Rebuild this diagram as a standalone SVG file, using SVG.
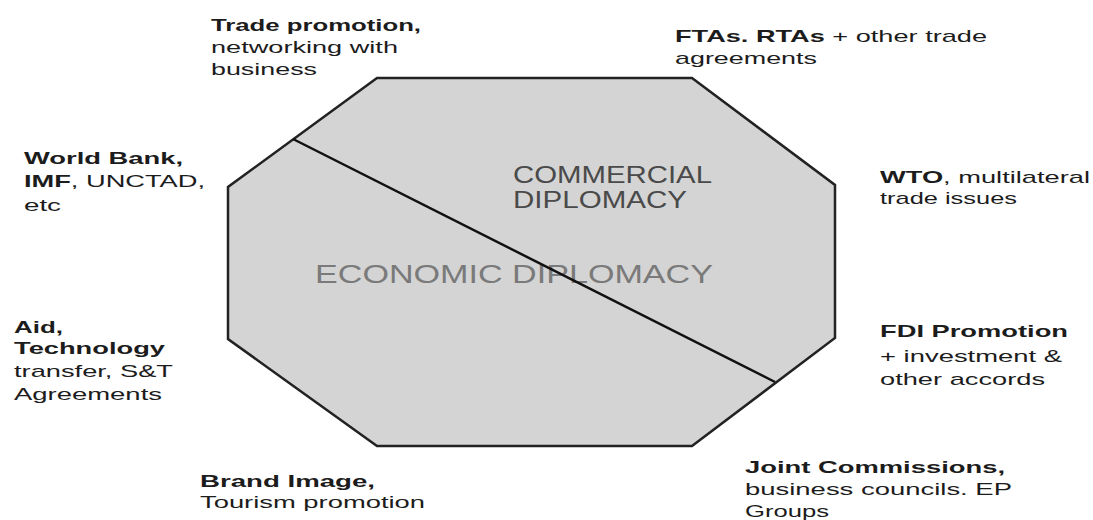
<svg xmlns="http://www.w3.org/2000/svg" width="1093" height="520" viewBox="0 0 1093 520">
<style>
.lbl{font-family:"Liberation Sans",Arial,sans-serif;font-size:17px;fill:#1c1c1c}
.b{font-weight:bold}
.big{font-family:"Liberation Sans",Arial,sans-serif;font-size:25px}
.big2{font-family:"Liberation Sans",Arial,sans-serif;font-size:23px}
.oct{fill:#d4d4d4;stroke:#222;stroke-width:2.5;stroke-linejoin:miter}
.div{stroke:#111;stroke-width:2.5;fill:none}
</style>
<rect width="1093" height="520" fill="#fff"/>
<g id="octagon">
<polygon class="oct" points="377,78 692,78 835,185 835,338 692,446 377,446 228,339 228,187"/>
<text class="big2" x="513" y="183" fill="#4a4a4a" textLength="199" lengthAdjust="spacingAndGlyphs">COMMERCIAL</text>
<text class="big2" x="513" y="208" fill="#4a4a4a" textLength="174" lengthAdjust="spacingAndGlyphs">DIPLOMACY</text>
<text class="big" x="315" y="283" fill="#7a7a7a" textLength="398" lengthAdjust="spacingAndGlyphs">ECONOMIC DIPLOMACY</text>
</g>
<g id="connectors">
<line class="div" x1="293" y1="139" x2="775" y2="382"/>
</g>
<g id="trade-promotion">
<text class="lbl b" x="211" y="31" textLength="210" lengthAdjust="spacingAndGlyphs">Trade promotion,</text>
<text class="lbl" x="211" y="53" textLength="187" lengthAdjust="spacingAndGlyphs">networking with</text>
<text class="lbl" x="211" y="75" textLength="106" lengthAdjust="spacingAndGlyphs">business</text>
</g>
<g id="world-bank">
<text class="lbl b" x="24" y="164" textLength="159" lengthAdjust="spacingAndGlyphs">World Bank,</text>
<text class="lbl" x="24" y="187" textLength="181" lengthAdjust="spacingAndGlyphs"><tspan class="b">IMF</tspan>, UNCTAD,</text>
<text class="lbl" x="24" y="211" textLength="37" lengthAdjust="spacingAndGlyphs">etc</text>
</g>
<g id="aid">
<text class="lbl b" x="14" y="333" textLength="49" lengthAdjust="spacingAndGlyphs">Aid,</text>
<text class="lbl b" x="14" y="354" textLength="151" lengthAdjust="spacingAndGlyphs">Technology</text>
<text class="lbl" x="14" y="377" textLength="159" lengthAdjust="spacingAndGlyphs">transfer, S&amp;T</text>
<text class="lbl" x="14" y="400" textLength="148" lengthAdjust="spacingAndGlyphs">Agreements</text>
</g>
<g id="ftas">
<text class="lbl" x="675" y="42" textLength="312" lengthAdjust="spacingAndGlyphs"><tspan class="b">FTAs. RTAs</tspan> + other trade</text>
<text class="lbl" x="675" y="64" textLength="142" lengthAdjust="spacingAndGlyphs">agreements</text>
</g>
<g id="wto">
<text class="lbl" x="880" y="183" textLength="210" lengthAdjust="spacingAndGlyphs"><tspan class="b">WTO</tspan>, multilateral</text>
<text class="lbl" x="880" y="204" textLength="137" lengthAdjust="spacingAndGlyphs">trade issues</text>
</g>
<g id="fdi">
<text class="lbl b" x="880" y="337" textLength="188" lengthAdjust="spacingAndGlyphs">FDI Promotion</text>
<text class="lbl" x="880" y="362" textLength="182" lengthAdjust="spacingAndGlyphs">+ investment &amp;</text>
<text class="lbl" x="880" y="385" textLength="165" lengthAdjust="spacingAndGlyphs">other accords</text>
</g>
<g id="joint-commissions">
<text class="lbl b" x="745" y="473" textLength="260" lengthAdjust="spacingAndGlyphs">Joint Commissions,</text>
<text class="lbl" x="745" y="495" textLength="267" lengthAdjust="spacingAndGlyphs">business councils. EP</text>
<text class="lbl" x="745" y="517" textLength="84" lengthAdjust="spacingAndGlyphs">Groups</text>
</g>
<g id="brand-image">
<text class="lbl b" x="200" y="487" textLength="175" lengthAdjust="spacingAndGlyphs">Brand Image,</text>
<text class="lbl" x="200" y="508" textLength="225" lengthAdjust="spacingAndGlyphs">Tourism promotion</text>
</g>
</svg>
